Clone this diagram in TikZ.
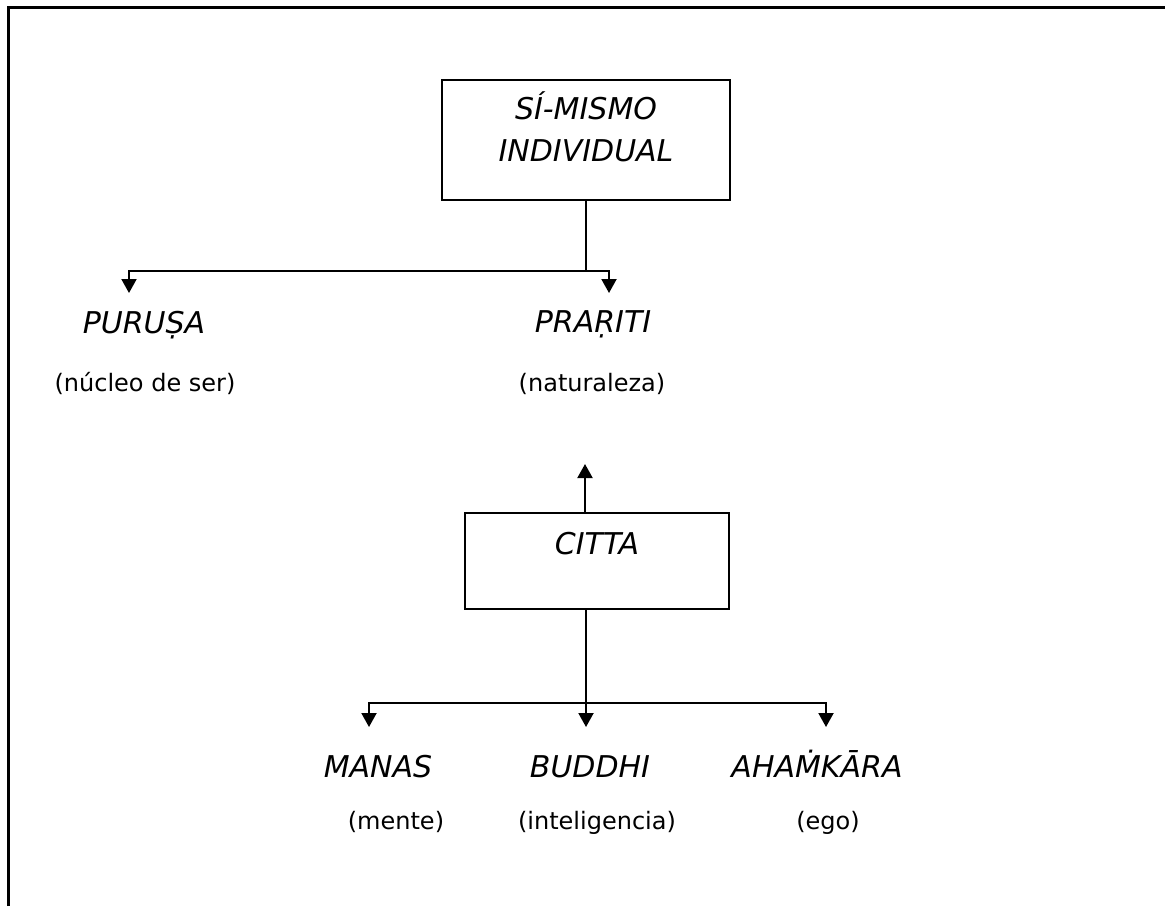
\documentclass[tikz,border=0pt]{standalone}
\usepackage{fontspec}
\setmainfont{DejaVu Sans}
\usetikzlibrary{arrows.meta}
\tikzset{
  boxnode/.style={draw, line width=2pt, inner sep=0pt, align=center,
    font=\itshape\fontsize{30}{42}\selectfont},
  titlenode/.style={anchor=base, inner sep=0pt, font=\itshape\fontsize{30}{36}\selectfont},
  glossnode/.style={anchor=base, inner sep=0pt, font=\fontsize{24}{29}\selectfont},
  conn/.style={line width=2pt},
  arr/.style={line width=2pt, -{Triangle[width=15pt,length=14pt]}},
  framestyle/.style={line width=3pt}
}
\begin{document}
\begin{tikzpicture}[x=1pt,y=-1pt]
\useasboundingbox (0,0) rectangle (1165,906);
% frame
\coordinate (fa) at (8.5,906);
\coordinate (fb) at (8.5,7);
\coordinate (fc) at (1165,7);
\draw[framestyle] (fa) -- (fb) -- (fc);

% top box
\node[boxnode, anchor=north, minimum width=288pt, text height=81pt, text depth=39pt]
  (self) at (586,79) {SÍ-MISMO\\INDIVIDUAL};

% junction and tips
\coordinate (j1) at (586,271);
\coordinate (tpur) at (129,293);
\coordinate (tpra) at (609,293);

\node[titlenode] (pur) at (144,333) {PURUṢA};
\node[glossnode] (purg) at (145,391) {(núcleo de ser)};
\node[titlenode] (pra) at (593,332) {PRAṚITI};
\node[glossnode] (prag) at (592,391) {(naturaleza)};

\draw[conn] (self) -- (j1);
\draw[arr] (j1) -| (tpur);
\draw[arr] (j1) -| (tpra);

% citta
\node[boxnode, anchor=north, minimum width=264pt, text height=41pt, text depth=55pt]
  (citta) at (597,512) {CITTA};
\coordinate (tup) at (585,464);
\draw[arr] (citta.north -| tup) -- (tup);

\coordinate (j2) at (586,703);
\coordinate (tman) at (369,727);
\coordinate (tbud) at (586,727);
\coordinate (taha) at (826,727);
\draw[arr] (citta.south -| j2) -- (tbud);
\draw[arr] (j2) -| (tman);
\draw[arr] (j2) -| (taha);

\node[titlenode] (man) at (378,777) {MANAS};
\node[titlenode] (bud) at (590,777) {BUDDHI};
\node[titlenode] (aha) at (817,777) {AHAṀKĀRA};
\node[glossnode] (mang) at (396,829) {(mente)};
\node[glossnode] (budg) at (597,829) {(inteligencia)};
\node[glossnode] (ahag) at (828,829) {(ego)};
\end{tikzpicture}
\end{document}
